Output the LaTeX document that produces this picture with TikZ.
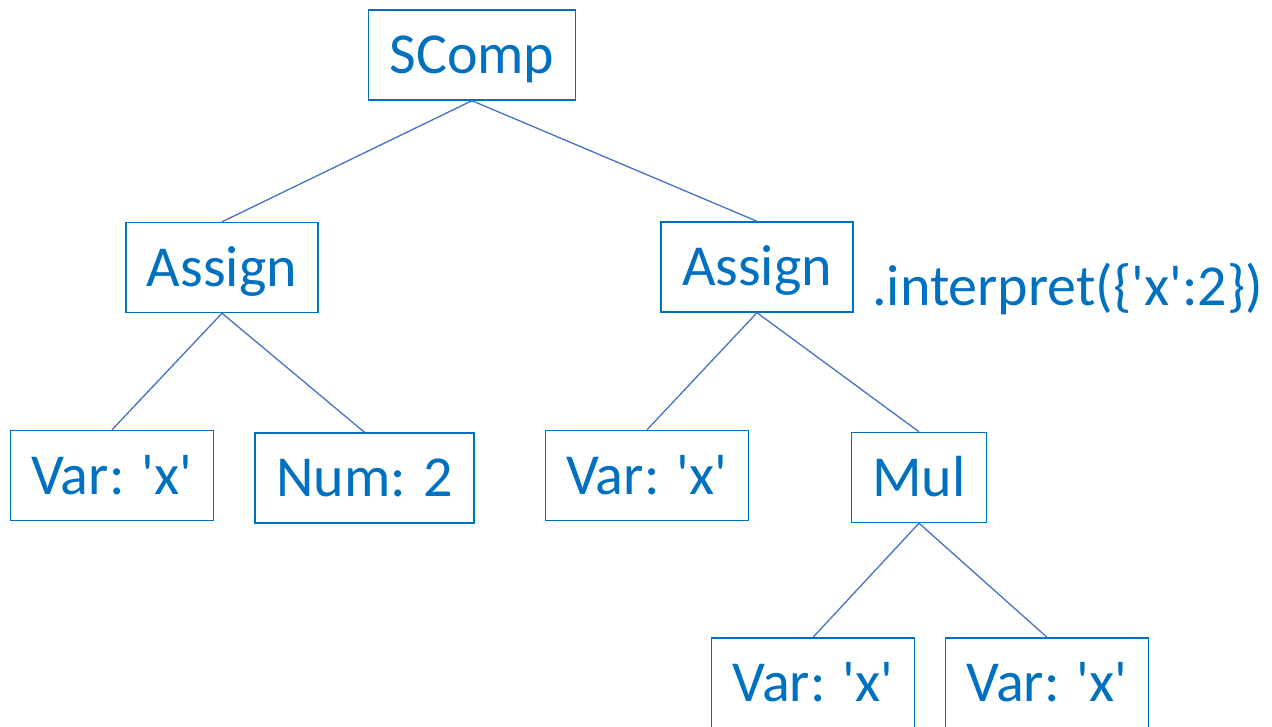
\documentclass[tikz,border=0pt]{standalone}
\usepackage{fontspec}
\setmainfont{Carlito}
\definecolor{boxblue}{HTML}{0070C0}
\definecolor{edgeblue}{HTML}{4472C4}
\newcommand{\sq}{\textquotesingle}
\tikzset{
    astnode/.style={draw=boxblue, line width=1.4pt, text=boxblue, minimum height=90pt,
        inner xsep=21pt, text height=46pt, text depth=9pt,
        font=\fontsize{58}{70}\selectfont},
    astedge/.style={draw=edgeblue, line width=1.3pt}
}
\begin{document}
\begin{tikzpicture}[x=1pt, y=-1pt]
    \useasboundingbox (0,0) rectangle (1272,726);
    % Root and the two assignments
    \node[astnode] (scomp) at (472,55) {SComp};
    \node[astnode] (asgnL) at (222,267.5) {Assign};
    \node[astnode] (asgnR) at (757,267) {Assign};
    % Leaves of the first assignment
    \node[astnode] (varA) at (112,475.5) {Var: \sq x\sq};
    \node[astnode] (numA) at (364.5,478) {Num: 2};
    % Second assignment: x = x * x
    \node[astnode] (varB) at (647,475.5) {Var: \sq x\sq};
    \node[astnode] (mul) at (919,477.5) {Mul};
    \node[astnode] (varC) at (813,683) {Var: \sq x\sq};
    \node[astnode] (varD) at (1047,683) {Var: \sq x\sq};
    % Method call next to the second assignment
    \node[text=boxblue, font=\fontsize{58}{70}\selectfont, anchor=base west, inner sep=0pt]
        (call) at (872,305) {.interpret(\{\sq x\sq:2\})};
    % Tree edges, parent bottom to child top
    \foreach \p/\c in {scomp/asgnL, scomp/asgnR, asgnL/varA, asgnL/numA,
                       asgnR/varB, asgnR/mul, mul/varC, mul/varD} {
        \draw[astedge] (\p.south) -- (\c.north);
    }
\end{tikzpicture}
\end{document}
